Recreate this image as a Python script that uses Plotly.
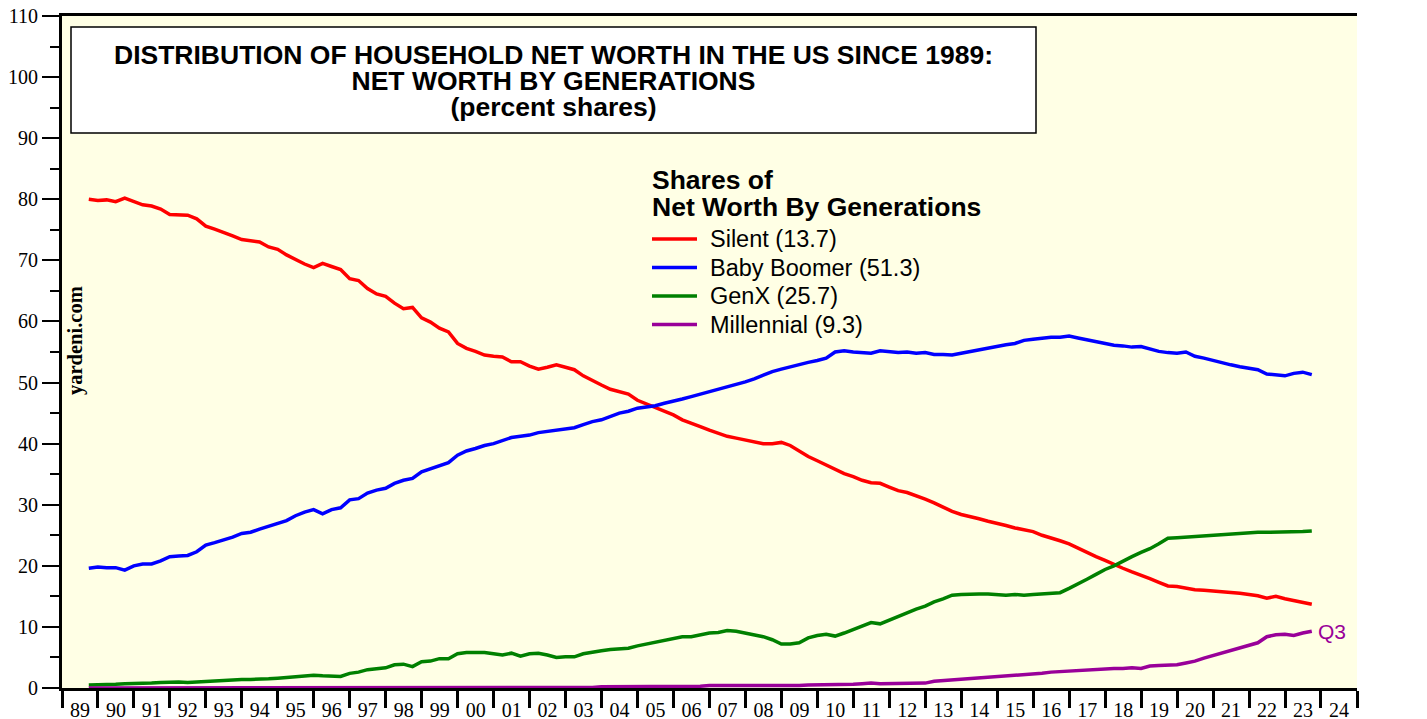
import pandas as pd
import plotly.graph_objects as go

# Quarterly shares (%), 1989Q3 .. 2023Q3
silent = [
    80.0, 79.8,
    79.9, 79.6, 80.2, 79.6,
    79.1, 78.9, 78.4, 77.5,
    77.4, 77.4, 76.8, 75.6,
    75.1, 74.6, 74.0, 73.4,
    73.2, 73.0, 72.2, 71.8,
    70.9, 70.1, 69.4, 68.8,
    69.5, 69.0, 68.5, 67.0,
    66.7, 65.4, 64.5, 64.1,
    63.0, 62.1, 62.3, 60.6,
    59.9, 58.9, 58.3, 56.4,
    55.6, 55.1, 54.5, 54.3,
    54.2, 53.4, 53.4, 52.7,
    52.2, 52.5, 52.9, 52.5,
    52.1, 51.1, 50.3, 49.6,
    48.9, 48.5, 48.1, 47.1,
    46.5, 46.0, 45.3, 44.7,
    43.9, 43.4, 42.8, 42.2,
    41.7, 41.2, 40.9, 40.6,
    40.3, 40.0, 40.0, 40.2,
    39.7, 38.8, 37.9, 37.2,
    36.5, 35.9, 35.1, 34.6,
    34.0, 33.6, 33.5, 32.9,
    32.3, 32.0, 31.5, 30.9,
    30.3, 29.6, 28.9, 28.4,
    28.1, 27.7, 27.3, 27.0,
    26.6, 26.2, 25.9, 25.6,
    25.0, 24.6, 24.1, 23.6,
    22.9, 22.1, 21.5, 20.9,
    20.2, 19.6, 19.0, 18.5,
    17.9, 17.3, 16.7, 16.6,
    16.3, 16.1, 16.0, 15.9,
    15.8, 15.6, 15.5, 15.3,
    15.1, 14.7, 15.0, 14.6,
    14.3, 14.0, 13.7,
]

baby_boomer = [
    19.6, 19.8,
    19.7, 19.7, 19.3, 20.0,
    20.3, 20.3, 20.8, 21.5,
    21.6, 21.7, 22.3, 23.4,
    23.8, 24.2, 24.7, 25.3,
    25.5, 26.0, 26.5, 27.0,
    27.4, 28.2, 28.8, 29.2,
    28.5, 29.2, 29.5, 30.8,
    31.0, 31.9, 32.4, 32.7,
    33.5, 34.0, 34.3, 35.4,
    35.9, 36.5, 36.9, 38.1,
    38.8, 39.2, 39.7, 40.0,
    40.5, 41.0, 41.2, 41.4,
    41.8, 42.0, 42.2, 42.4,
    42.6, 43.1, 43.6, 43.9,
    44.5, 45.0, 45.3, 45.8,
    46.0, 46.2, 46.6, 46.9,
    47.3, 47.7, 48.1, 48.5,
    48.8, 49.2, 49.6, 50.1,
    50.6, 51.2, 51.8, 52.2,
    52.6, 53.0, 53.3, 53.6,
    54.0, 55.0, 55.2, 55.0,
    54.9, 54.8, 55.2, 55.1,
    54.9, 55.0, 54.8, 54.9,
    54.6, 54.6, 54.5, 54.8,
    55.1, 55.4, 55.7, 56.0,
    56.2, 56.4, 56.9, 57.1,
    57.3, 57.4, 57.4, 57.6,
    57.3, 57.0, 56.7, 56.4,
    56.1, 56.0, 55.8, 55.9,
    55.5, 55.1, 54.9, 54.8,
    55.0, 54.3, 54.0, 53.6,
    53.2, 52.9, 52.6, 52.3,
    52.1, 51.4, 51.2, 51.1,
    51.5, 51.7, 51.3,
]

genx = [
    0.5, 0.5,
    0.6, 0.6, 0.7, 0.7,
    0.8, 0.8, 0.9, 1.0,
    1.0, 0.9, 1.0, 1.1,
    1.2, 1.3, 1.4, 1.4,
    1.4, 1.4, 1.5, 1.6,
    1.7, 1.8, 2.0, 2.1,
    2.0, 1.9, 1.9, 2.4,
    2.6, 3.0, 3.2, 3.3,
    3.8, 3.9, 3.5, 4.3,
    4.4, 4.8, 4.8, 5.6,
    5.8, 5.8, 5.8, 5.6,
    5.4, 5.7, 5.2, 5.6,
    5.7, 5.4, 5.0, 5.1,
    5.1, 5.6, 5.9, 6.1,
    6.3, 6.4, 6.5, 6.9,
    7.2, 7.5, 7.8, 8.1,
    8.4, 8.4, 8.7, 9.0,
    9.1, 9.4, 9.3, 9.0,
    8.7, 8.4, 7.9, 7.2,
    7.2, 7.4, 8.2, 8.6,
    8.8, 8.5, 9.0, 9.6,
    10.2, 10.7, 10.5, 11.1,
    11.8, 12.3, 12.9, 13.4,
    14.1, 14.6, 15.2, 15.3,
    15.4, 15.4, 15.4, 15.3,
    15.2, 15.3, 15.2, 15.3,
    15.4, 15.5, 15.6, 16.3,
    17.0, 17.8, 18.6, 19.4,
    20.0, 20.8, 21.5, 22.2,
    22.8, 23.6, 24.5, 24.6,
    24.7, 24.9, 25.0, 25.1,
    25.2, 25.3, 25.3, 25.4,
    25.5, 25.5, 25.5, 25.5,
    25.5, 25.6, 25.7,
]

millennial = [
    0.0, 0.0,
    0.0, 0.0, 0.0, 0.0,
    0.0, 0.0, 0.0, 0.0,
    0.0, 0.0, 0.0, 0.0,
    0.0, 0.0, 0.0, 0.0,
    0.0, 0.0, 0.0, 0.0,
    0.0, 0.0, 0.0, 0.0,
    0.0, 0.0, 0.0, 0.0,
    0.0, 0.0, 0.0, 0.0,
    0.0, 0.0, 0.0, 0.0,
    0.0, 0.0, 0.0, 0.0,
    0.0, 0.0, 0.0, 0.0,
    0.0, 0.0, 0.0, 0.0,
    0.1, 0.1, 0.1, 0.1,
    0.1, 0.1, 0.1, 0.2,
    0.2, 0.2, 0.2, 0.2,
    0.3, 0.3, 0.3, 0.3,
    0.3, 0.3, 0.3, 0.4,
    0.4, 0.4, 0.4, 0.4,
    0.4, 0.3, 0.3, 0.3,
    0.3, 0.4, 0.5, 0.5,
    0.5, 0.6, 0.6, 0.6,
    0.7, 0.8, 0.7, 0.7,
    0.7, 0.7, 0.8, 0.8,
    1.1, 1.2, 1.3, 1.4,
    1.5, 1.6, 1.7, 1.8,
    1.9, 2.0, 2.1, 2.2,
    2.4, 2.6, 2.7, 2.8,
    2.8, 2.9, 3.0, 3.1,
    3.2, 3.2, 3.3, 3.2,
    3.6, 3.7, 3.7, 3.8,
    4.1, 4.4, 4.9, 5.3,
    5.7, 6.1, 6.5, 6.9,
    7.4, 8.4, 8.7, 8.8,
    8.6, 9.0, 9.3,
]

series_names = ["Silent", "Baby Boomer", "GenX", "Millennial"]
series_values = [silent, baby_boomer, genx, millennial]
series_colors = ["#FF0000", "#0000FF", "#008000", "#990099"]
latest_quarter = "Q3"
title_lines = ["DISTRIBUTION OF HOUSEHOLD NET WORTH IN THE US SINCE 1989:",
               "NET WORTH BY GENERATIONS", "(percent shares)"]
legend_title = ["Shares of", "Net Worth By Generations"]

dates = pd.date_range("1989-09-30", periods=len(silent), freq="QE")

# The page body adds an 8px margin, so the figure is 8px smaller than the window.
OFF = 8
W, H = 1427 - OFF, 719 - OFF
L, R, T, B = 62, 1357, 16, 688          # plot-area edges in window pixels


def px(xp):
    return (xp - L) / (R - L)


def py(yp):
    return (B - yp) / (B - T)


serif = "Liberation Serif"
sans = "Liberation Sans"

fig = go.Figure()
for name, vals, col in zip(series_names, series_values, series_colors):
    fig.add_trace(go.Scatter(
        x=dates, y=vals, mode="lines",
        name=f"{name} ({vals[-1]:.1f})",
        line=dict(color=col, width=3.5),
        showlegend=False,
    ))

axis_y = dict(
    range=[0, 110], dtick=10, tick0=0,
    ticks="outside", ticklen=17, tickwidth=1.5, tickcolor="black",
    minor=dict(dtick=5, ticks="outside", ticklen=9, tickwidth=1.5, tickcolor="black"),
    showline=True, linewidth=3, linecolor="black",
    showgrid=False, zeroline=False, automargin=False,
    ticklabeloverflow="allow",
    tickfont=dict(family=serif, size=20, color="black"),
)

fig.update_layout(
    width=W, height=H,
    margin=dict(l=L - OFF, r=W - (R - OFF), t=T - OFF, b=H - (B - OFF), autoexpand=False),
    paper_bgcolor="white",
    plot_bgcolor="#FFFFE5",
    showlegend=False,
    xaxis=dict(
        type="date",
        range=["1989-01-01", "2025-01-01"],
        tick0="1989-01-01", dtick="M12",
        ticklabelmode="period", tickformat="%y",
        ticks="outside", ticklen=17, tickwidth=3, tickcolor="black",
        ticklabelstandoff=-15, ticklabeloverflow="allow",
        showline=True, linewidth=3, linecolor="black", mirror=True,
        showgrid=False, zeroline=False, automargin=False,
        tickfont=dict(family=serif, size=20, color="black"),
    ),
    yaxis=axis_y,
    yaxis2=dict(axis_y, overlaying="y", side="right", anchor="x"),
)

# Title box
fig.add_shape(type="rect", xref="paper", yref="paper",
              x0=px(71), x1=px(1036), y0=py(133), y1=py(27),
              fillcolor="white", line=dict(color="black", width=1.5), layer="above")
title_txt = "<br>".join(
    f"<span style='font-size:26.5px'><b>{t}</b></span>" for t in title_lines)
fig.add_annotation(
    xref="paper", yref="paper", x=px(553), y=py(81),
    text=title_txt, showarrow=False,
    font=dict(family=sans, size=20, color="black"),
    xanchor="center", yanchor="middle", align="center",
)

# Legend (drawn manually)
leg_txt = "<br>".join(
    f"<span style='font-size:26.5px'><b>{t}</b></span>" for t in legend_title)
fig.add_annotation(
    xref="paper", yref="paper", x=px(650), y=py(193.5),
    text=leg_txt, showarrow=False,
    font=dict(family=sans, size=20.8, color="black"),
    xanchor="left", yanchor="middle", align="left",
)
for i, (name, vals, col) in enumerate(zip(series_names, series_values, series_colors)):
    yc = 239 + i * 28.5
    fig.add_shape(type="line", xref="paper", yref="paper",
                  x0=px(652), x1=px(697), y0=py(yc), y1=py(yc),
                  line=dict(color=col, width=3.5))
    fig.add_annotation(
        xref="paper", yref="paper", x=px(708), y=py(yc),
        text=f"{name} ({vals[-1]:.1f})", showarrow=False,
        font=dict(family=sans, size=23.5, color="black"),
        xanchor="left", yanchor="middle",
    )

fig.add_annotation(
    xref="paper", yref="paper", x=px(76), y=py(341),
    text="<b>yardeni.com</b>", textangle=-90, showarrow=False,
    font=dict(family=serif, size=20.5, color="black"),
    xanchor="center", yanchor="middle",
)

fig.add_annotation(
    x=dates[-1], y=millennial[-1], xref="x", yref="y",
    text=latest_quarter, showarrow=False, xanchor="left", yanchor="middle",
    xshift=4, font=dict(family=sans, size=21, color="#990099"),
)

fig.write_html("out.html")
